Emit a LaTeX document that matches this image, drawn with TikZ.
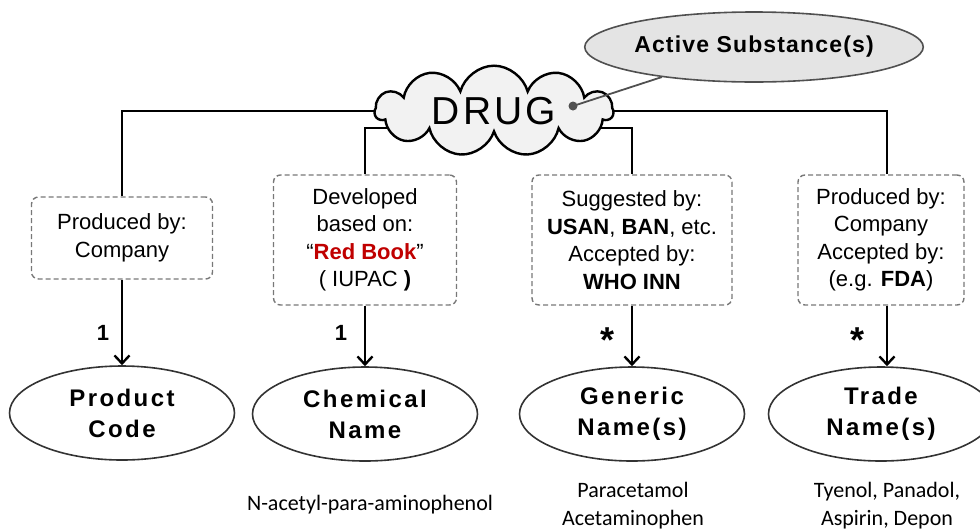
\documentclass[tikz,border=0pt]{standalone}
\usepackage{fontspec}
\setmainfont{Liberation Sans}
\newfontfamily\calfont{Carlito}
\newfontfamily\spacedfont[LetterSpace=10]{Liberation Sans}
\newfontfamily\drugfont[LetterSpace=8]{Liberation Sans}
\newfontfamily\actfont[LetterSpace=5]{Liberation Sans}
\usetikzlibrary{shapes.geometric,shapes.symbols,arrows.meta,backgrounds,calc}
\definecolor{boxgray}{RGB}{120,120,120}
\definecolor{cloudgray}{RGB}{242,242,242}
\definecolor{actgray}{RGB}{228,228,228}
\definecolor{linkgray}{RGB}{80,80,80}
\definecolor{redbook}{RGB}{192,0,0}
\begin{document}
\begin{tikzpicture}[x=1pt,y=-1pt,
  conn/.style={line width=2.6pt, black},
  arr/.style={conn, -{Straight Barb[length=8pt,width=15pt,line width=2.4pt]}},
  infobox/.style={draw=boxgray, line width=1.4pt, dash pattern=on 5pt off 3pt,
    rounded corners=7pt, align=center, inner sep=0pt,
    font=\fontsize{22}{27.5}\selectfont},
  ename/.style={ellipse, draw=black!80, line width=1.6pt, minimum width=225pt,
    minimum height=94pt, inner sep=0pt, align=center,
    font=\spacedfont\bfseries\fontsize{24}{31}\selectfont},
  drugcloud/.style={cloud, cloud puffs=11, aspect=3.2, draw=black, line width=2.4pt,
    fill=cloudgray, minimum width=238pt, minimum height=80pt, inner sep=0pt,
    font=\drugfont\fontsize{39}{39}\selectfont},
  actell/.style={ellipse, draw=linkgray, line width=1.6pt, fill=actgray,
    minimum width=325pt, minimum height=70pt, inner sep=0pt,
    font=\actfont\bfseries\fontsize{23}{23}\selectfont},
  lab/.style={font=\bfseries\fontsize{22}{22}\selectfont, inner sep=0pt},
  star/.style={font=\bfseries\fontsize{36}{36}\selectfont, inner sep=0pt},
  example/.style={font=\calfont\fontsize{22}{28}\selectfont, align=center, inner sep=0pt}
]
\useasboundingbox (0,0) rectangle (980,531);
\clip (0,0) rectangle (980,531);

% boxes
\node[infobox, minimum width=181pt, minimum height=82pt] (b1) at (122,238)
  {Produced by:\\Company};
\node[infobox, minimum width=183pt, minimum height=130pt] (b2) at (365,240)
  {Developed\\based on:\\``\textcolor{redbook}{\textbf{Red Book}}''\\( IUPAC \textbf{)}};
\node[infobox, minimum width=200pt, minimum height=130pt] (b3) at (632,240)
  {Suggested by:\\\textbf{USAN}, \textbf{BAN}, etc.\\Accepted by:\\\textbf{WHO INN}};
\node[infobox, minimum width=166pt, minimum height=130pt] (b4) at (881,240)
  {Produced by:\\Company\\Accepted by:\\(e.g. \textbf{FDA})};

% ellipses
\node[ename] (e1) at (122,413) {Product\\Code};
\node[ename] (e2) at (365,414) {Chemical\\Name};
\node[ename] (e3) at (632,414) {Generic\\Name(s)};
\node[ename] (e4) at (881,414) {Trade\\Name(s)};

% cloud and active substance
\node[drugcloud] (drug) at (494,111) {DRUG};
\node[actell] (act) at (754,47) {Active Substance(s)};
\coordinate (dot) at (573,106);
\draw[linkgray, line width=1.8pt] (act) -- (dot);
\fill[linkgray] (dot) circle (4.5pt);

% connectors behind the cloud
\begin{scope}[on background layer]
  \coordinate (hub) at ([yshift=-17pt]drug.center);
  \draw[conn] (drug.center) -| (b1.north);
  \draw[conn] (drug.center) -| ([xshift=6pt]b4.north);
  \draw[conn] (hub) -| (b2.north);
  \draw[conn] (hub) -| (b3.north);
\end{scope}

% arrows
\draw[arr] (b1) -- (e1);
\draw[arr] (b2) -- (e2);
\draw[arr] (b3) -- (e3);
\draw[arr] ([xshift=6pt]b4.south) -- ([xshift=6pt]e4.north);

% multiplicities
\node[lab] (m1) at (103,333) {1};
\node[lab] (m2) at (341,333) {1};
\node[star] (m3) at (607,340) {*};
\node[star] (m4) at (857,340) {*};

% examples
\node[example] (x2) at (370,505) {N-acetyl-para-aminophenol};
\node[example] (x3) at (633,506) {Paracetamol\\Acetaminophen};
\node[example] (x4) at (887,506) {Tyenol, Panadol,\\Aspirin, Depon};
\end{tikzpicture}
\end{document}
